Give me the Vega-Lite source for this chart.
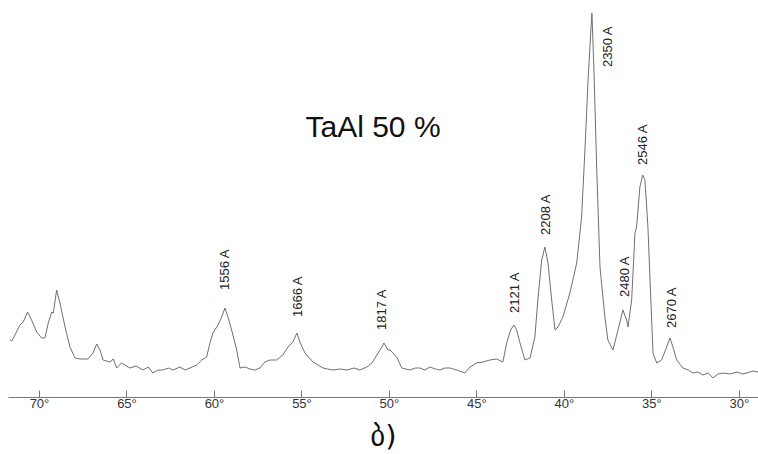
{
  "$schema": "https://vega.github.io/schema/vega-lite/v6.json",
  "width": 750,
  "height": 397,
  "autosize": "none",
  "padding": {"left": 8, "top": 0, "right": 0, "bottom": 57},
  "background": "white",
  "config": {"view": {"stroke": null}, "font": "Liberation Sans"},
  "datasets": {
    "spec": [
      {"t": 71.66, "I": 57}, {"t": 71.56, "I": 56}, {"t": 71.37, "I": 62}, {"t": 71.09, "I": 72}, {"t": 70.9, "I": 75},
      {"t": 70.65, "I": 85}, {"t": 70.42, "I": 77}, {"t": 70.13, "I": 65}, {"t": 69.85, "I": 59}, {"t": 69.66, "I": 59},
      {"t": 69.47, "I": 74}, {"t": 69.27, "I": 85}, {"t": 69.18, "I": 84}, {"t": 68.99, "I": 107}, {"t": 68.8, "I": 94},
      {"t": 68.51, "I": 70}, {"t": 68.23, "I": 50}, {"t": 67.94, "I": 39}, {"t": 67.66, "I": 38}, {"t": 67.2, "I": 38},
      {"t": 66.91, "I": 44}, {"t": 66.7, "I": 53}, {"t": 66.51, "I": 47}, {"t": 66.34, "I": 37}, {"t": 65.94, "I": 35},
      {"t": 65.75, "I": 38}, {"t": 65.56, "I": 29}, {"t": 65.3, "I": 34}, {"t": 65.09, "I": 32}, {"t": 64.8, "I": 29},
      {"t": 64.45, "I": 31}, {"t": 64.06, "I": 27}, {"t": 63.75, "I": 30}, {"t": 63.49, "I": 24}, {"t": 63.2, "I": 27},
      {"t": 62.91, "I": 27}, {"t": 62.6, "I": 29}, {"t": 62.34, "I": 27}, {"t": 61.94, "I": 30}, {"t": 61.65, "I": 27},
      {"t": 61.37, "I": 29}, {"t": 60.99, "I": 32}, {"t": 60.7, "I": 37}, {"t": 60.42, "I": 40}, {"t": 60.23, "I": 54},
      {"t": 60.06, "I": 64}, {"t": 59.77, "I": 72}, {"t": 59.56, "I": 80}, {"t": 59.37, "I": 89}, {"t": 59.2, "I": 80},
      {"t": 58.99, "I": 67}, {"t": 58.7, "I": 47}, {"t": 58.51, "I": 29}, {"t": 58.23, "I": 30}, {"t": 57.95, "I": 28},
      {"t": 57.66, "I": 27}, {"t": 57.37, "I": 29}, {"t": 57.09, "I": 35}, {"t": 56.8, "I": 37}, {"t": 56.42, "I": 37},
      {"t": 56.06, "I": 42}, {"t": 55.77, "I": 50}, {"t": 55.49, "I": 55}, {"t": 55.26, "I": 64}, {"t": 55.09, "I": 55},
      {"t": 54.8, "I": 44}, {"t": 54.34, "I": 35}, {"t": 53.77, "I": 29}, {"t": 53.5, "I": 28}, {"t": 53.2, "I": 27},
      {"t": 52.8, "I": 28}, {"t": 52.4, "I": 27}, {"t": 52.0, "I": 29}, {"t": 51.66, "I": 27}, {"t": 51.26, "I": 30},
      {"t": 50.97, "I": 34}, {"t": 50.69, "I": 42}, {"t": 50.4, "I": 50}, {"t": 50.29, "I": 54}, {"t": 50.06, "I": 47},
      {"t": 49.94, "I": 47}, {"t": 49.56, "I": 40}, {"t": 49.27, "I": 29}, {"t": 48.8, "I": 27}, {"t": 48.5, "I": 29},
      {"t": 48.23, "I": 29}, {"t": 47.95, "I": 27}, {"t": 47.66, "I": 30}, {"t": 47.35, "I": 28}, {"t": 47.09, "I": 27},
      {"t": 46.8, "I": 29}, {"t": 46.51, "I": 29}, {"t": 46.13, "I": 27}, {"t": 45.66, "I": 24}, {"t": 45.37, "I": 30},
      {"t": 44.99, "I": 34}, {"t": 44.63, "I": 35}, {"t": 44.23, "I": 37}, {"t": 43.85, "I": 38}, {"t": 43.49, "I": 35},
      {"t": 43.27, "I": 54}, {"t": 43.05, "I": 67}, {"t": 42.86, "I": 72}, {"t": 42.7, "I": 67}, {"t": 42.51, "I": 54},
      {"t": 42.23, "I": 37}, {"t": 41.94, "I": 39}, {"t": 41.66, "I": 60}, {"t": 41.49, "I": 97}, {"t": 41.27, "I": 137},
      {"t": 41.09, "I": 150}, {"t": 40.91, "I": 134}, {"t": 40.7, "I": 97}, {"t": 40.51, "I": 67}, {"t": 40.34, "I": 70},
      {"t": 40.06, "I": 80}, {"t": 39.66, "I": 104}, {"t": 39.27, "I": 134}, {"t": 38.99, "I": 180}, {"t": 38.8, "I": 247},
      {"t": 38.63, "I": 314}, {"t": 38.47, "I": 364}, {"t": 38.4, "I": 384}, {"t": 38.29, "I": 330}, {"t": 38.13, "I": 230},
      {"t": 37.94, "I": 130}, {"t": 37.66, "I": 80}, {"t": 37.49, "I": 57}, {"t": 37.2, "I": 47}, {"t": 36.91, "I": 67},
      {"t": 36.63, "I": 87}, {"t": 36.42, "I": 77}, {"t": 36.34, "I": 70}, {"t": 36.13, "I": 97}, {"t": 35.94, "I": 164},
      {"t": 35.85, "I": 170}, {"t": 35.66, "I": 210}, {"t": 35.5, "I": 222}, {"t": 35.37, "I": 217}, {"t": 35.2, "I": 170},
      {"t": 35.05, "I": 104}, {"t": 34.91, "I": 44}, {"t": 34.7, "I": 34}, {"t": 34.42, "I": 37}, {"t": 34.13, "I": 50},
      {"t": 33.94, "I": 59}, {"t": 33.77, "I": 50}, {"t": 33.56, "I": 37}, {"t": 33.2, "I": 29}, {"t": 32.9, "I": 27},
      {"t": 32.63, "I": 24}, {"t": 32.35, "I": 25}, {"t": 32.06, "I": 22}, {"t": 31.75, "I": 24}, {"t": 31.49, "I": 19},
      {"t": 31.2, "I": 23}, {"t": 30.91, "I": 24}, {"t": 30.5, "I": 23}, {"t": 30.11, "I": 25}, {"t": 29.8, "I": 23},
      {"t": 29.54, "I": 24}, {"t": 29.2, "I": 26}, {"t": 28.91, "I": 25}
    ],
    "labels": [
      {"t": 59.37, "I": 107, "label": "1556 A"},
      {"t": 55.2, "I": 80, "label": "1666 A"},
      {"t": 50.4, "I": 67, "label": "1817 A"},
      {"t": 42.8, "I": 84, "label": "2121 A"},
      {"t": 41.03, "I": 162, "label": "2208 A"},
      {"t": 37.49, "I": 330, "label": "2350 A"},
      {"t": 36.51, "I": 100, "label": "2480 A"},
      {"t": 35.49, "I": 232, "label": "2546 A"},
      {"t": 33.83, "I": 69, "label": "2670 A"}
    ],
    "title": [{"t": 50.91, "I": 260, "label": "TaAl 50 %"}]
  },
  "encoding": {
    "x": {
      "field": "t", "type": "quantitative",
      "scale": {"domain": [28.91, 71.77], "reverse": true, "nice": false, "zero": false},
      "axis": {
        "values": [30, 35, 40, 45, 50, 55, 60, 65, 70],
        "labelExpr": "datum.value + '°'",
        "grid": false,
        "tickSize": -7,
        "tickColor": "#777",
        "domainColor": "#777",
        "labelColor": "#333",
        "labelFontSize": 13,
        "labelPadding": 7,
        "title": "ბ)",
        "titleFont": "DejaVu Sans",
        "titleFontSize": 29,
        "titleFontWeight": "normal",
        "titleColor": "#111",
        "titlePadding": 12
      }
    },
    "y": {
      "field": "I", "type": "quantitative",
      "scale": {"domain": [0, 397], "nice": false, "zero": false},
      "axis": null
    }
  },
  "layer": [
    {
      "data": {"name": "spec"},
      "mark": {"type": "line", "color": "#707070", "strokeWidth": 1, "interpolate": "linear"}
    },
    {
      "data": {"name": "labels"},
      "mark": {"type": "text", "angle": 270, "align": "left", "baseline": "middle", "fontSize": 13, "color": "#222"},
      "encoding": {"text": {"field": "label"}}
    },
    {
      "data": {"name": "title"},
      "mark": {"type": "text", "align": "center", "baseline": "alphabetic", "fontSize": 30, "color": "#111"},
      "encoding": {"text": {"field": "label"}}
    }
  ]
}
